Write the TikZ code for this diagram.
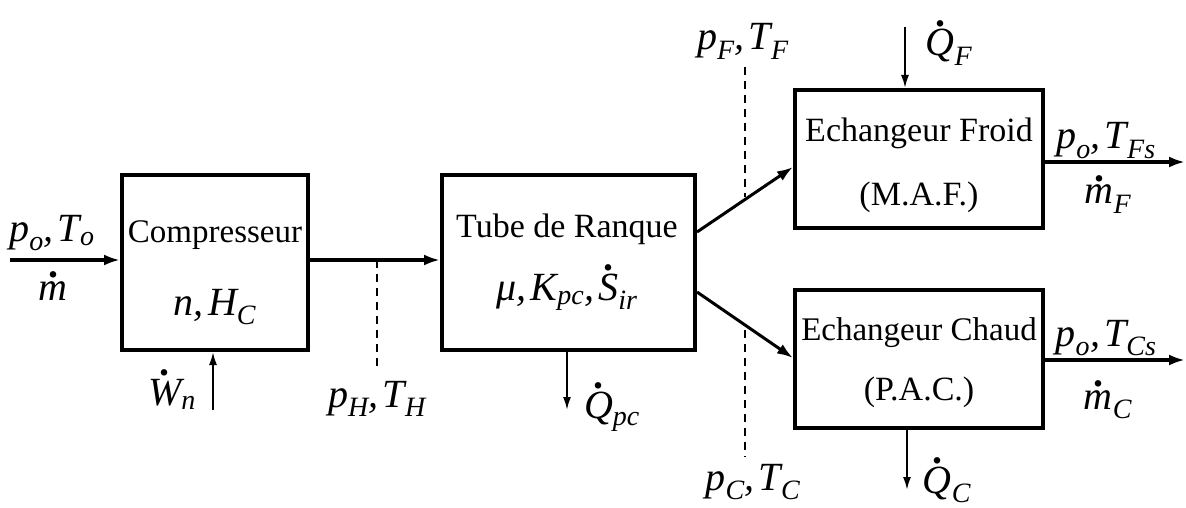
\documentclass[tikz,border=0pt]{standalone}
\usepackage{amsmath}
\usepackage{fontspec}
\setmainfont{Liberation Serif}
\usetikzlibrary{arrows.meta}
\newcommand{\vi}[1]{\textit{#1}}
\newcommand{\dt}[1]{\overset{\raisebox{-0.25ex}{\textbf{.}}}{#1}}
\begin{document}
\begin{tikzpicture}[x=1pt,y=-1pt,
  blk/.style={draw=black,line width=4pt,minimum width=#1,inner sep=0pt},
  btxt/.style={font=\fontsize{34}{40}\selectfont,inner sep=0pt,anchor=base},
  lbl/.style={font=\fontsize{40}{44}\selectfont,inner sep=0pt,anchor=base},
  flow/.style={line width=3.5pt,-{Latex[length=16pt,width=11pt]}},
  dflow/.style={line width=3pt,-{Latex[length=16pt,width=11pt]}},
  heat/.style={line width=2pt,-{Latex[length=13pt,width=8pt]}},
  sect/.style={line width=1.5pt,dash pattern=on 8pt off 6pt}]
\useasboundingbox (0,0) rectangle (1186,508);
\fill[white] (0,0) rectangle (1186,508);
% blocks
\node[blk=186pt,minimum height=175pt] (comp) at (215,262.5) {};
\node[blk=253pt,minimum height=175pt] (tube) at (568.5,262.5) {};
\node[blk=248pt,minimum height=138pt] (froid) at (919,159) {};
\node[blk=248pt,minimum height=138pt] (chaud) at (919,359) {};
% block texts
\node[btxt,font=\fontsize{33}{40}\selectfont] (t1) at (215,242) {Compresseur};
\node[lbl] (t2) at (215,315) {$\vi{n}\vi{,}\,\vi{H}_{\vi{C}}$};
\node[btxt] (t3) at (567,237) {Tube de Ranque};
\node[lbl] (t4) at (567,300) {$\vi{μ}\vi{,}\,\vi{K}_{\vi{pc}}\vi{,}\,\dt{\vi{S}}_{\vi{ir}}$};
\node[btxt] (t5) at (919,142) {Echangeur Froid};
\node[btxt] (t6) at (919,205) {(M.A.F.)};
\node[btxt,font=\fontsize{33}{40}\selectfont] (t7) at (919,340) {Echangeur Chaud};
\node[btxt] (t8) at (919,400) {(P.A.C.)};
% coordinates
\coordinate (in) at (10,260);
\coordinate (outF) at (1185,162);
\coordinate (outC) at (1185,360);
\coordinate (wn) at (213,410);
\coordinate (qpc) at (567,410);
\coordinate (qf) at (905,27);
\coordinate (qc) at (907,490);
\coordinate (dh1) at (377,260);
\coordinate (dh2) at (377,367);
\coordinate (df1) at (745,67);
\coordinate (df2) at (745,197);
\coordinate (dc1) at (745,330);
\coordinate (dc2) at (745,457);
% connectors
\draw[flow] (in) -- (in -| comp.west);
\draw[flow] (comp.east |- in) -- (tube.west |- in);
\draw[dflow] (tube.east |- 0,232) -- (froid.west |- 0,167);
\draw[dflow] (tube.east |- 0,292) -- (chaud.west |- 0,358);
\draw[flow] (froid.east |- outF) -- (outF);
\draw[flow] (chaud.east |- outC) -- (outC);
\draw[heat] (wn) -- (wn |- comp.south);
\draw[heat] (qpc |- tube.south) -- (qpc);
\draw[heat] (qf) -- (qf |- froid.north);
\draw[heat] (qc |- chaud.south) -- (qc);
\draw[sect] (dh1) -- (dh2);
\draw[sect] (df1) -- (df2);
\draw[sect] (dc1) -- (dc2);
% labels
\node[lbl] (l1) at (52,241) {$\vi{p}_{\vi{o}}\vi{,}\,\vi{T}_{\vi{o}}$};
\node[lbl] (l2) at (53,300) {$\dt{\vi{m}}$};
\node[lbl] (l3) at (172,405) {$\dt{\vi{W}}_{\vi{n}}$};
\node[lbl] (l4) at (377,407) {$\vi{p}_{\vi{H}}\vi{,}\,\vi{T}_{\vi{H}}$};
\node[lbl] (l5) at (612,418) {$\dt{\vi{Q}}_{\vi{pc}}$};
\node[lbl] (l6) at (743,50) {$\vi{p}_{\vi{F}}\vi{,}\,\vi{T}_{\vi{F}}$};
\node[lbl] (l7) at (949,56) {$\dt{\vi{Q}}_{\vi{F}}$};
\node[lbl] (l8) at (1106,149) {$\vi{p}_{\vi{o}}\vi{,}\,\vi{T}_{\vi{Fs}}$};
\node[lbl] (l9) at (1108,204) {$\dt{\vi{m}}_{\vi{F}}$};
\node[lbl] (l10) at (1106,346) {$\vi{p}_{\vi{o}}\vi{,}\,\vi{T}_{\vi{Cs}}$};
\node[lbl] (l11) at (1108,409) {$\dt{\vi{m}}_{\vi{C}}$};
\node[lbl] (l12) at (753,490) {$\vi{p}_{\vi{C}}\vi{,}\,\vi{T}_{\vi{C}}$};
\node[lbl] (l13) at (947,493) {$\dt{\vi{Q}}_{\vi{C}}$};
\end{tikzpicture}
\end{document}
